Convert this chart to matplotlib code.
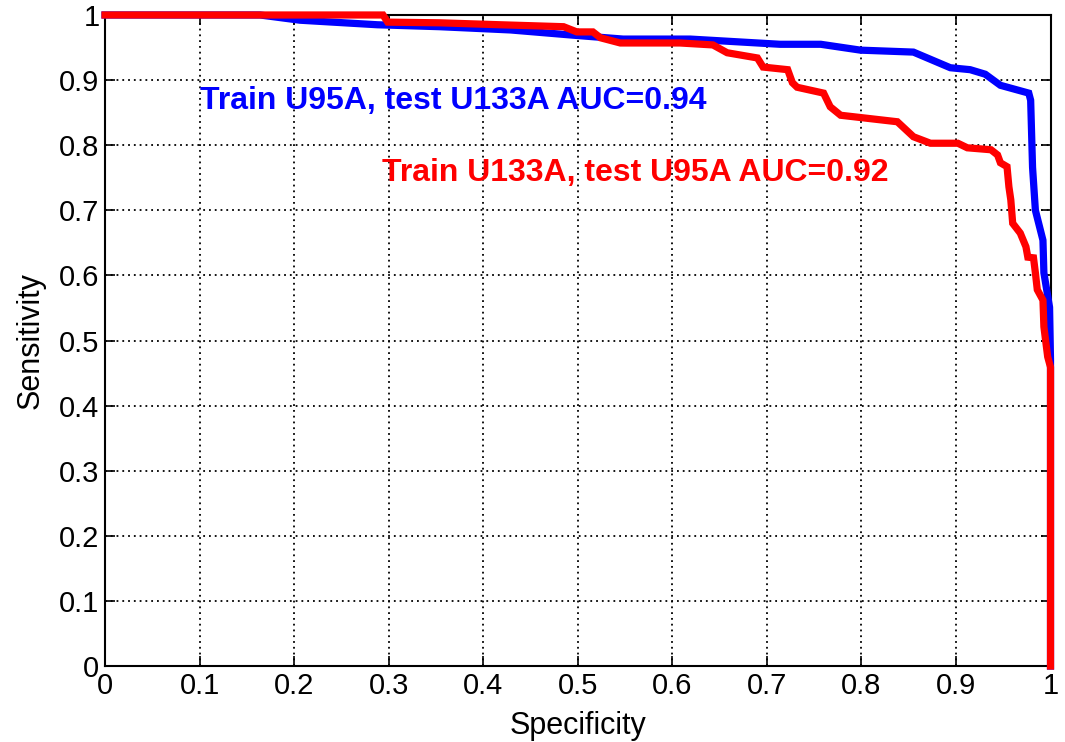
import matplotlib
matplotlib.use('Agg')
import matplotlib.pyplot as plt

# ROC curves (specificity, sensitivity)
blue_spec = [0.0, 0.164, 0.206, 0.288, 0.354, 0.429, 0.495, 0.548, 0.619, 0.714,
             0.757, 0.799, 0.855, 0.894, 0.915, 0.931, 0.947, 0.977, 0.979, 0.981,
             0.984, 0.992, 0.993, 0.999, 1.0, 1.0]
blue_sens = [1.0, 1.0, 0.992, 0.985, 0.982, 0.977, 0.969, 0.963, 0.963, 0.955,
             0.955, 0.946, 0.943, 0.919, 0.916, 0.909, 0.892, 0.880, 0.869, 0.766,
             0.700, 0.654, 0.604, 0.551, 0.47, 0.0]

red_spec = [0.0, 0.294, 0.299, 0.354, 0.418, 0.485, 0.499, 0.516, 0.524, 0.545,
            0.608, 0.643, 0.658, 0.690, 0.696, 0.722, 0.727, 0.732, 0.760, 0.767,
            0.778, 0.838, 0.855, 0.873, 0.902, 0.912, 0.937, 0.944, 0.947, 0.954,
            0.956, 0.958, 0.960, 0.968, 0.974, 0.976, 0.982, 0.984, 0.986, 0.992,
            0.993, 0.997, 1.0, 1.0]
red_sens = [1.0, 1.0, 0.989, 0.988, 0.985, 0.982, 0.974, 0.974, 0.965, 0.957,
            0.957, 0.954, 0.942, 0.934, 0.920, 0.916, 0.896, 0.889, 0.880, 0.859,
            0.846, 0.836, 0.813, 0.803, 0.803, 0.796, 0.793, 0.785, 0.773, 0.767,
            0.736, 0.716, 0.680, 0.665, 0.644, 0.628, 0.627, 0.604, 0.578, 0.562,
            0.521, 0.475, 0.459, 0.0]

ticks = [0, 0.1, 0.2, 0.3, 0.4, 0.5, 0.6, 0.7, 0.8, 0.9, 1]
tick_labels = ['0', '0.1', '0.2', '0.3', '0.4', '0.5', '0.6', '0.7', '0.8', '0.9', '1']

blue_label = 'Train U95A, test U133A AUC=0.94'
red_label = 'Train U133A, test U95A AUC=0.92'

plt.rcParams['font.family'] = ['Liberation Sans', 'DejaVu Sans']

fig = plt.figure(figsize=(10.65, 7.42), dpi=100)
ax = fig.add_axes([0.0986, 0.1024, 0.8878, 0.8774])

ax.plot(blue_spec, blue_sens, color='#0000ff', lw=5.2, clip_on=False,
        solid_joinstyle='miter', zorder=3)
ax.plot(red_spec, red_sens, color='#ff0000', lw=5.2, clip_on=False,
        solid_joinstyle='miter', zorder=4)

ax.text(0.1, 0.868, blue_label, color='#0000ff', fontsize=23, fontweight='bold',
        va='center', ha='left')
ax.text(0.293, 0.757, red_label, color='#ff0000', fontsize=23, fontweight='bold',
        va='center', ha='left')

ax.set_xlim(0, 1)
ax.set_ylim(0, 1)
ax.set_xticks(ticks)
ax.set_xticklabels(tick_labels)
ax.set_yticks(ticks)
ax.set_yticklabels(tick_labels)
ax.tick_params(direction='in', length=7, width=1.2, labelsize=21,
               top=True, right=True, pad=4)
ax.grid(True, color='black', linestyle=(0, (1, 2.2)), linewidth=1.3)
for s in ax.spines.values():
    s.set_linewidth(1.5)
ax.set_xlabel('Specificity', fontsize=22, labelpad=8)
ax.set_ylabel('Sensitivity', fontsize=22, labelpad=10)

fig.savefig('out.png', dpi=100)
